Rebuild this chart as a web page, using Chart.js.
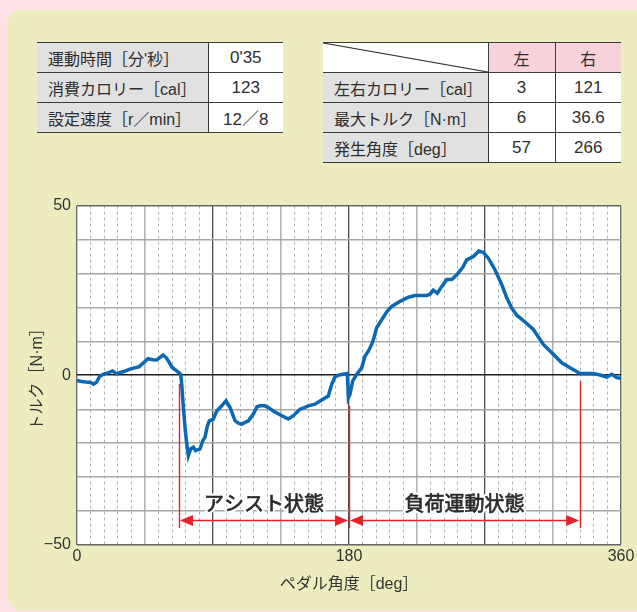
<!DOCTYPE html>
<html>
<head>
<meta charset="utf-8">
<script src="https://cdn.jsdelivr.net/npm/chart.js@4.4.1/dist/chart.umd.min.js"></script>
<style>
html, body { margin: 0; padding: 0; width: 637px; height: 612px; overflow: hidden; background: #fde2e7; }
#panel { position: absolute; left: 7px; top: 10px; width: 660px; height: 600px; background: #edecbf; border-radius: 14px; }
table { position: absolute; border-collapse: collapse; table-layout: fixed; font-family: 'Liberation Sans', 'Noto Sans CJK JP', sans-serif; font-size: 16px; color: #2e2e2e; }
td { padding: 0; height: 29px; border-top: 1.5px solid #3a3a3a; border-bottom: 1.5px solid #3a3a3a; white-space: nowrap; overflow: hidden; }
td.lab { background: #e1e1e1; padding-left: 11px; }
td.val { background: #fff; text-align: center; border-left: 1.5px solid #3a3a3a; font-size: 17px; }
td.head { background: #f8d2da; text-align: center; border-left: 1.5px solid #3a3a3a; }
td.diag {
  background-color: #fff;
  background-image: url("data:image/svg+xml;utf8,<svg xmlns='http://www.w3.org/2000/svg' viewBox='0 0 100 100' preserveAspectRatio='none'><line x1='0' y1='0' x2='100' y2='100' stroke='%23333' stroke-width='1.2' vector-effect='non-scaling-stroke'/></svg>");
  background-size: 100% 100%;
  background-repeat: no-repeat;
}
#chart { position: absolute; left: 0; top: 190px; }
</style>
</head>
<body>
<div id="panel"></div>
<table id="summary" style="left:37px;top:42px;width:246px">
  <colgroup><col style="width:171px"><col style="width:75px"></colgroup>
</table>
<table id="sides" style="left:323px;top:42px;width:298px">
  <colgroup><col style="width:165px"><col style="width:67px"><col style="width:66px"></colgroup>
</table>
<canvas id="chart" width="637" height="422"></canvas>
<script>
// 表の値
const summaryLabels = ["運動時間［分'秒］", "消費カロリー［cal］", "設定速度［r／min］"];
const summaryValues = ["0'35", "123", "12／8"];
const sideHeads = ["左", "右"];
const sideLabels = ["左右カロリー［cal］", "最大トルク［N·m］", "発生角度［deg］"];
const leftValues = ["3", "6", "57"];
const rightValues = ["121", "36.6", "266"];

// 波形 (ペダル角度 deg / トルク N·m)
const angleDeg = [0, 3, 6, 9, 11, 13, 15, 18, 21, 23.5, 26, 29, 31, 35, 38, 41, 44, 47, 50, 52.7, 55, 57, 59, 61, 63, 66,
  68.6, 69.3, 70.4, 71.5, 72.6, 73.7, 75.2, 77, 78.5, 81.4, 83.2, 84.7, 86.3, 87.6, 90.2, 92.5, 95.8, 98.6,
  101.3, 104.6, 107, 109, 113.4, 116.7, 119, 121, 124.4, 127, 129.9, 132.5, 135.5, 139.8, 143.2, 147.6, 150.5,
  153.1, 157.5, 161.9, 166.3, 168.6, 170.7, 173.5, 176.2, 178.9, 179.6, 180.7, 182.4, 185.1, 188.4, 190.6,
  192.8, 195, 196.5, 198.3, 201.7, 205, 208.3, 213.8, 219.3, 223.7, 231.4, 233.6, 235.8, 238.5, 241.4, 244.7,
  248, 251.3, 255.3, 257.9, 262.3, 266, 268.9, 272.2, 276.6, 281.1, 284.4, 287.7, 291, 296.5, 302, 308.6,
  315.2, 320.8, 326.3, 332.9, 341.7, 346.1, 350.6, 353.9, 357.2, 360];
const torqueNm = [-1.5, -1.8, -2.0, -2.1, -2.6, -2.0, -0.3, 0.4, 0.8, 1.3, 0.5, 0.9, 1.1, 1.8, 2.2, 2.5, 3.7, 4.9, 4.6, 4.5, 5.3, 6.0, 5.2, 3.8, 2.3, 1.3,
  0.3, -2.6, -9.5, -15.4, -20.2, -23.7, -21.7, -21.2, -22.2, -21.7, -19.3, -18.3, -14.9, -13.4, -12.9, -10.5, -9.0, -7.5,
  -9.5, -13.4, -14.2, -14.4, -13.4, -11.4, -9.3, -9.0, -9.0, -9.6, -10.5, -11.2, -11.9, -12.9, -11.9, -10.0, -9.5,
  -9.0, -8.5, -7.3, -6.1, -2.6, -0.5, 0.1, 0.3, 0.5, -6.6, -5.6, -1.7, 0.3, 2.2, 5.7,
  7.1, 9.1, 11.0, 14.0, 16.4, 18.7, 20.3, 21.8, 23.0, 23.5, 23.5, 23.9, 25.1, 24.2, 26.2, 28.2,
  28.2, 29.6, 31.8, 34.0, 35.0, 36.6, 36.2, 34.5, 31.1, 26.7, 22.8, 19.8, 17.7, 15.7, 13.5, 9.1,
  6.2, 3.7, 2.2, 0.5, 0.5, 0.1, -0.5, 0.3, -0.7, -0.9];

const yTicksShown = [50, 0, -50];
const xTicksShown = [0, 180, 360];

// 状態区間の注記
const phaseBounds = [67.5, 180, 333];
const phaseLineTops = [-2.5, -9, -1.7];
const phaseNames = ["アシスト状態", "負荷運動状態"];
const arrowLevel = -42.5;
const phaseLineBottom = -45;

// 表を作る
function addRow(table, cells) {
  const tr = document.createElement("tr");
  cells.forEach(([cls, text]) => {
    const td = document.createElement("td");
    td.className = cls;
    td.textContent = text;
    tr.appendChild(td);
  });
  table.appendChild(tr);
}
const t1 = document.getElementById("summary");
summaryLabels.forEach((l, i) => addRow(t1, [["lab", l], ["val", summaryValues[i]]]));
const t2 = document.getElementById("sides");
addRow(t2, [["diag", ""], ["head", sideHeads[0]], ["head", sideHeads[1]]]);
sideLabels.forEach((l, i) => addRow(t2, [["lab", l], ["val", leftValues[i]], ["val", rightValues[i]]]));

const plotBg = {
  id: "plotBg",
  beforeDraw(chart) {
    const { ctx, chartArea: a } = chart;
    ctx.save();
    ctx.fillStyle = "#fff";
    ctx.fillRect(a.left, a.top, a.right - a.left, a.bottom - a.top);
    ctx.restore();
  }
};

function arrowHead(ctx, tipX, y, dir) {
  ctx.beginPath();
  ctx.moveTo(tipX, y);
  ctx.lineTo(tipX - dir * 13, y - 5.5);
  ctx.lineTo(tipX - dir * 13, y + 5.5);
  ctx.closePath();
  ctx.fill();
}

const phaseArrows = {
  id: "phaseArrows",
  afterDatasetsDraw(chart) {
    const { ctx, scales: { x, y } } = chart;
    ctx.save();
    ctx.strokeStyle = "#e8202a";
    ctx.fillStyle = "#e8202a";
    ctx.lineWidth = 1.4;
    phaseBounds.forEach((b, i) => {
      const px = Math.round(x.getPixelForValue(b)) + 0.5;
      ctx.beginPath();
      ctx.moveTo(px, y.getPixelForValue(phaseLineTops[i]));
      ctx.lineTo(px, y.getPixelForValue(phaseLineBottom));
      ctx.stroke();
    });
    const ay = Math.round(y.getPixelForValue(arrowLevel)) + 0.5;
    for (let i = 0; i < phaseNames.length; i++) {
      const x1 = x.getPixelForValue(phaseBounds[i]) + 1;
      const x2 = x.getPixelForValue(phaseBounds[i + 1]) - 1;
      ctx.beginPath();
      ctx.moveTo(x1 + 6, ay);
      ctx.lineTo(x2 - 6, ay);
      ctx.stroke();
      arrowHead(ctx, x1, ay, -1);
      arrowHead(ctx, x2, ay, 1);
    }
    ctx.font = "20px 'Noto Sans CJK JP', sans-serif";
    ctx.textAlign = "center";
    ctx.textBaseline = "middle";
    ctx.lineJoin = "round";
    for (let i = 0; i < phaseNames.length; i++) {
      const cx = (x.getPixelForValue(phaseBounds[i]) + x.getPixelForValue(phaseBounds[i + 1])) / 2;
      const cy = ay - 17;
      ctx.strokeStyle = "#fff";
      ctx.lineWidth = 5;
      ctx.strokeText(phaseNames[i], cx, cy);
      // 少し太めに見せる
      ctx.strokeStyle = "#2b2b2b";
      ctx.lineWidth = 0.7;
      ctx.strokeText(phaseNames[i], cx, cy);
      ctx.fillStyle = "#2b2b2b";
      ctx.fillText(phaseNames[i], cx, cy);
    }
    ctx.restore();
  }
};

Chart.defaults.font.family = "'Liberation Sans', 'Noto Sans CJK JP', sans-serif";
Chart.defaults.color = "#333";

new Chart(document.getElementById("chart").getContext("2d"), {
  type: "line",
  data: {
    datasets: [{
      data: angleDeg.map((a, i) => ({ x: a, y: torqueNm[i] })),
      borderColor: "#0a68b4",
      borderWidth: 3.5,
      pointRadius: 0,
      tension: 0,
      fill: false,
    }]
  },
  options: {
    responsive: false,
    animation: false,
    devicePixelRatio: 1,
    layout: { padding: { left: 0, right: 16, top: 14, bottom: 0 } },
    plugins: { legend: { display: false }, tooltip: { enabled: false } },
    scales: {
      x: {
        type: "linear",
        min: 0,
        max: 360,
        afterFit: (s) => { s.height = 67; },
        ticks: {
          stepSize: 9,
          autoSkip: false,
          maxRotation: 0,
          padding: 2,
          font: { size: 16 },
          callback: (v) => (xTicksShown.includes(v) ? String(v) : ""),
        },
        grid: {
          drawTicks: false,
          color: (c) => {
            const v = c.tick.value;
            if (v === 0 || v === 360) return "#666";
            if (v % 90 === 0) return "#4a4a4a";
            return "#b3b3b3";
          },
          lineWidth: (c) => {
            const v = c.tick.value;
            if (v % 90 === 0) return 1.3;
            if (v % 45 === 0) return 1.6;
            return 1;
          },
        },
        border: {
          display: false,
          dash: (c) => (c.tick && c.tick.value % 45 !== 0 ? [3, 3] : []),
        },
        title: {
          display: true,
          text: "ペダル角度［deg］",
          font: { size: 16 },
          padding: { top: 0, bottom: 18 },
        },
      },
      y: {
        min: -50,
        max: 50,
        afterFit: (s) => { s.width = 77; },
        ticks: {
          stepSize: 10,
          padding: 6,
          font: { size: 16 },
          callback: (v) => (yTicksShown.includes(v) ? (v < 0 ? "\u2212" + Math.abs(v) : String(v)) : ""),
        },
        grid: {
          drawTicks: false,
          color: (c) => {
            const v = c.tick.value;
            if (v === 0) return "#1e1e1e";
            if (v === 50 || v === -50) return "#666";
            return "#a8a8a8";
          },
          lineWidth: (c) => (c.tick.value === 0 ? 1.6 : 1.4),
        },
        border: { display: false },
        title: {
          display: true,
          text: "トルク［N·m］",
          font: { size: 16 },
          padding: { top: 28, bottom: 0 },
        },
      },
    },
  },
  plugins: [plotBg, phaseArrows],
});
</script>
</body>
</html>
